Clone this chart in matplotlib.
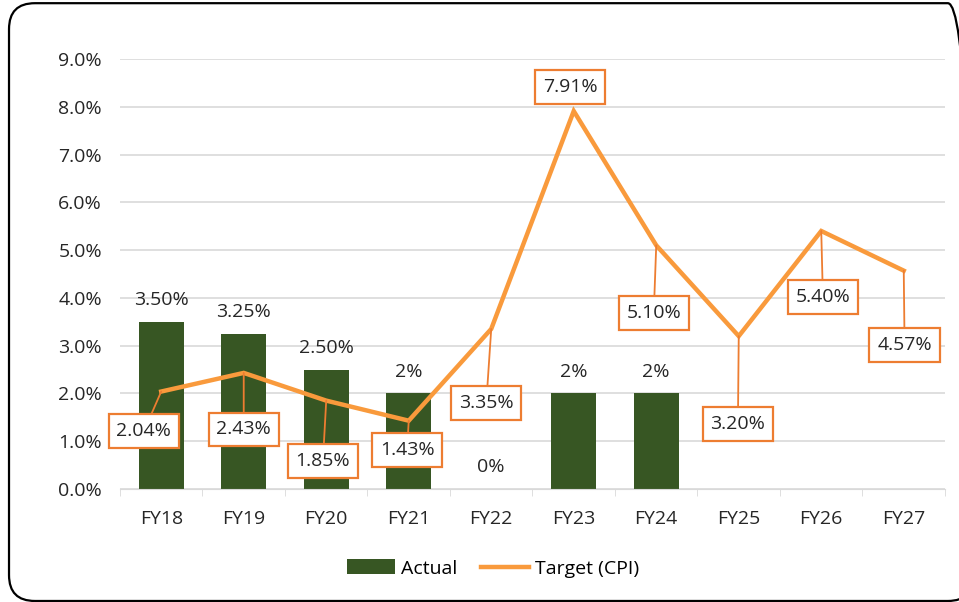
import numpy as np
import matplotlib.pyplot as plt
from matplotlib.patches import FancyBboxPatch
from matplotlib.ticker import FuncFormatter

plt.rcParams['font.family'] = ['Open Sans', 'DejaVu Sans']

years = ['FY18', 'FY19', 'FY20', 'FY21', 'FY22', 'FY23', 'FY24', 'FY25', 'FY26', 'FY27']
actual = [3.50, 3.25, 2.50, 2.0, 0.0, 2.0, 2.0]
actual_labels = ['3.50%', '3.25%', '2.50%', '2%', '0%', '2%', '2%']
target = [2.04, 2.43, 1.85, 1.43, 3.35, 7.91, 5.10, 3.20, 5.40, 4.57]
target_labels = ['2.04%', '2.43%', '1.85%', '1.43%', '3.35%', '7.91%', '5.10%', '3.20%', '5.40%', '4.57%']

# where Excel dropped the target labels (data coords)
label_x = [-0.21, 1.0, 1.96, 2.98, 3.94, 4.955, 5.97, 6.99, 8.02, 9.01]
label_y = [1.21, 1.25, 0.59, 0.82, 1.80, 8.41, 3.68, 1.36, 4.02, 3.01]

green = '#375623'
orange = '#F99A3C'
box_edge = '#ED7D31'
txt = '#262626'
fs = 14

fig = plt.figure(figsize=(9.59, 6.02), dpi=100)
border = FancyBboxPatch((0.0094, 0.0017), 1.006, 0.993, boxstyle='round,pad=0,rounding_size=0.027',
                        transform=fig.transFigure, fill=False, edgecolor='black', linewidth=1.6,
                        mutation_aspect=959 / 602)
fig.patches.append(border)

ax = fig.add_axes([0.1251, 0.1877, 0.8603, 0.7143])
x = np.arange(len(years))

bars = ax.bar(x[:len(actual)], actual, width=0.55, color=green, label='Actual', zorder=2)
line, = ax.plot(x, target, color=orange, linewidth=3.2, label='Target (CPI)', zorder=3,
                solid_joinstyle='miter')

for i, (v, s) in enumerate(zip(actual, actual_labels)):
    ax.text(i, v + 0.27, s, ha='center', va='bottom', fontsize=fs, color=txt)

for i, (v, s) in enumerate(zip(target, target_labels)):
    # Excel leaves out the leader when the label sits right next to its point
    arrow = None if i == 5 else dict(arrowstyle='-', color=box_edge, lw=1.3, shrinkA=0, shrinkB=0)
    ax.annotate(s, xy=(i, v), xytext=(label_x[i], label_y[i]), ha='center', va='center',
                fontsize=fs, color=txt, zorder=5,
                bbox=dict(boxstyle='square,pad=0.4', fc='white', ec=box_edge, lw=1.6),
                arrowprops=arrow)

ax.set_xlim(-0.5, len(years) - 0.5)
ax.set_ylim(0, 9)
ax.set_yticks(np.arange(0, 9.5, 1.0))
ax.yaxis.set_major_formatter(FuncFormatter(lambda v, p: f'{v:.1f}%'))
ax.set_xticks(x)
ax.set_xticklabels(years)
ax.set_xticks(np.arange(-0.5, len(years), 1.0), minor=True)
ax.tick_params(axis='x', which='major', length=0, pad=15, labelsize=fs, labelcolor=txt)
ax.tick_params(axis='x', which='minor', length=5, color='#D9D9D9')
ax.tick_params(axis='y', length=0, pad=13, labelsize=fs, labelcolor=txt)
ax.grid(axis='y', color='#D9D9D9', linewidth=1.2, zorder=0)
ax.set_axisbelow(True)
for side in ['top', 'right', 'left']:
    ax.spines[side].set_visible(False)
ax.spines['bottom'].set_color('#D9D9D9')

ax.legend([bars, line], ['Actual', 'Target (CPI)'], loc='center', bbox_to_anchor=(0.452, -0.185),
          ncol=2, frameon=False, fontsize=fs, handlelength=2.5, handleheight=0.8,
          columnspacing=1.2, handletextpad=0.3)

fig.savefig('out.png', dpi=100)
